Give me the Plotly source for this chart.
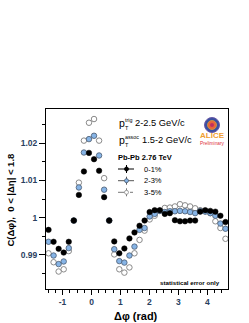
import plotly.graph_objects as go

# Delta-phi bin centres (36 bins over [-pi/2, 3pi/2])
dphi = [-1.4835, -1.3090, -1.1345, -0.9599, -0.7854, -0.6109, -0.4363, -0.2618,
        -0.0873, 0.0873, 0.2618, 0.4363, 0.6109, 0.7854, 0.9599, 1.1345,
        1.3090, 1.4835, 1.6581, 1.8326, 2.0071, 2.1817, 2.3562, 2.5307,
        2.7053, 2.8798, 3.0543, 3.2289, 3.4034, 3.5779, 3.7525, 3.9270,
        4.1015, 4.2761, 4.4506, 4.6251]

c_0_1 = [0.9967, 0.9935, 0.9916, 0.9906, 0.9935, 0.9992, 1.0061, 1.0124,
         1.0174, 1.0157, 1.0126, 1.0055, 0.9992, 0.9936, 0.9904, 0.9917,
         0.9944, 0.9960, 0.9978, 0.9992, 1.0015, 1.0020, 1.0020, 1.0010,
         1.0012, 0.9993, 0.9990, 0.9990, 0.9992, 0.9992, 1.0016, 1.0020,
         1.0018, 1.0016, 1.0005, 0.9988]

c_2_3 = [0.9935, 0.9898, 0.9875, 0.9882, 0.9918, 0.9992, 1.0081, 1.0175,
         1.0211, 1.0220, 1.0167, 1.0075, 0.9992, 0.9915, 0.9883, 0.9879,
         0.9898, 0.9922, 0.9967, 0.9972, 1.0003, 1.0010, 1.0018, 1.0015,
         1.0017, 1.0017, 1.0018, 1.0017, 1.0015, 1.0012, 1.0018, 1.0016,
         1.0012, 1.0005, 0.9984, 0.9970]

c_3_5 = [0.9904, 0.9880, 0.9855, 0.9861, 0.9910, 0.9992, 1.0094, 1.0207,
         1.0255, 1.0265, 1.0207, 1.0106, 0.9992, 0.9901, 0.9861, 0.9852,
         0.9866, 0.9904, 0.9940, 0.9965, 0.9995, 1.0005, 1.0018, 1.0026,
         1.0027, 1.0030, 1.0036, 1.0033, 1.0030, 1.0025, 1.0020, 1.0017,
         1.0012, 0.9990, 0.9972, 0.9943]

x_ticks = [-1, 0, 1, 2, 3, 4]
x_ticklabels = ["-1", "0", "1", "2", "3", "4"]
y_ticks = [0.99, 1.0, 1.01, 1.02]
y_ticklabels = ["0.99", "1", "1.01", "1.02"]
legend_labels = ["0-1%", "2-3%", "3-5%"]

W, H = 249, 323
L, R, T, B = 46, 228, 109, 289
FONT = "Liberation Sans, Arial, sans-serif"


def px(x):
    return (x - L) / (R - L)


def py(y):
    return (B - y) / (B - T)


fig = go.Figure()
fig.add_trace(go.Scatter(x=dphi, y=c_3_5, mode="markers", name=legend_labels[2],
                         marker=dict(symbol="circle", size=5.5, color="white",
                                     line=dict(color="#8a8a8a", width=1))))
fig.add_trace(go.Scatter(x=dphi, y=c_2_3, mode="markers", name=legend_labels[1],
                         marker=dict(symbol="circle", size=5.5, color="#86b4e6",
                                     line=dict(color="#4a5a70", width=0.8))))
fig.add_trace(go.Scatter(x=dphi, y=c_0_1, mode="markers", name=legend_labels[0],
                         marker=dict(symbol="circle", size=5.5, color="black",
                                     line=dict(color="black", width=0.5))))

ann = []


def text(t, x, y, size, color="black", xanchor="left", bold=False, angle=0, family=FONT):
    ann.append(dict(text=t, x=px(x), y=py(y), xref="paper", yref="paper",
                    xanchor=xanchor, yanchor="middle", showarrow=False,
                    textangle=angle,
                    font=dict(size=size, color=color, family=family,
                              weight="bold" if bold else "normal")))


# pT labels
text("p", 116.5, 123, 10.5)
text("trig", 123.0, 119.5, 5.3)
text("T", 123.0, 127.5, 5.5)
text("2-2.5 GeV/c", 132.5, 123, 9.3)
text("p", 116.5, 140, 10.5)
text("assoc", 123.0, 136.5, 5.3)
text("T", 123.0, 144.5, 5.5)
text("1.5-2 GeV/c", 140, 140, 9.3)
text("Pb-Pb 2.76 TeV", 116, 157, 7.5, bold=True)

# legend
leg_y = [169, 180.7, 192.3]
shapes = []
styles = [("black", "solid", "black", "black"),
          ("#555555", "solid", "#86b4e6", "#4a5a70"),
          ("#777777", "dashdot", "white", "#8a8a8a")]
for lab, yy, (lc, dash, fc, oc) in zip(legend_labels, leg_y, styles):
    shapes.append(dict(type="line", xref="paper", yref="paper",
                       x0=px(118), x1=px(134), y0=py(yy), y1=py(yy),
                       line=dict(color=lc, width=1, dash=dash)))
    shapes.append(dict(type="line", xref="paper", yref="paper",
                       x0=px(126.5), x1=px(126.5), y0=py(yy - 4), y1=py(yy + 4),
                       line=dict(color=lc, width=1)))
    shapes.append(dict(type="circle", xref="paper", yref="paper",
                       x0=px(124.5), x1=px(128.5), y0=py(yy + 2), y1=py(yy - 2),
                       fillcolor=fc, line=dict(color=oc, width=0.8)))
    text(lab, 142, yy, 7.5)

# ALICE logo
shapes.append(dict(type="circle", xref="paper", yref="paper",
                   x0=px(204.5), x1=px(219.5), y0=py(132.5), y1=py(117.5),
                   fillcolor="#3a4fa0", line=dict(color="#6a5aa8", width=1)))
shapes.append(dict(type="circle", xref="paper", yref="paper",
                   x0=px(207.5), x1=px(216.5), y0=py(129.5), y1=py(120.5),
                   fillcolor="#e8643a", line=dict(color="#d0a040", width=0.8)))
shapes.append(dict(type="circle", xref="paper", yref="paper",
                   x0=px(210), x1=px(214), y0=py(127), y1=py(123),
                   fillcolor="#c03060", line=dict(width=0)))
text("ALICE", 212, 135, 8, color="#f0a030", xanchor="center", bold=True)
text("Preliminary", 212, 143, 4.8, color="#e03040", xanchor="center")

text("statistical error only", 190, 282.5, 6.2, xanchor="center", bold=True)

# axis titles
text("Δφ (rad)", 136, 316, 11, xanchor="center", bold=True)
ann.append(dict(text="C(Δφ),  0 < |Δη| < 1.8", x=px(9.5), y=py(200),
                xref="paper", yref="paper", xanchor="center", yanchor="middle",
                showarrow=False, textangle=-90,
                font=dict(size=9.5, family=FONT, weight="bold", color="black")))

fig.update_layout(
    width=W, height=H,
    margin=dict(l=L, r=W - R, t=T, b=H - B, pad=0),
    paper_bgcolor="white", plot_bgcolor="white",
    showlegend=False,
    annotations=ann, shapes=shapes,
    xaxis=dict(range=[-1.5708, 4.7124], tickvals=x_ticks, ticktext=x_ticklabels,
               ticks="outside", ticklen=5, tickcolor="black", tickwidth=1,
               minor=dict(dtick=0.25, tick0=0, ticks="outside", ticklen=3,
                          tickcolor="black"),
               showline=True, linecolor="black", linewidth=1, mirror=True,
               showgrid=False, zeroline=False,
               tickfont=dict(size=8.5, family=FONT, weight="bold")),
    yaxis=dict(range=[0.9808, 1.0292], tickvals=y_ticks, ticktext=y_ticklabels,
               ticks="outside", ticklen=6, tickcolor="black", tickwidth=1,
               minor=dict(dtick=0.005, tick0=0.98, ticks="outside", ticklen=3,
                          tickcolor="black"),
               showline=True, linecolor="black", linewidth=1, mirror=True,
               showgrid=False, zeroline=False,
               tickfont=dict(size=8.5, family=FONT, weight="bold")),
)

fig.write_html("out.html", config={"displayModeBar": False},
               post_script="document.body.style.margin='0';document.body.style.padding='0';")
